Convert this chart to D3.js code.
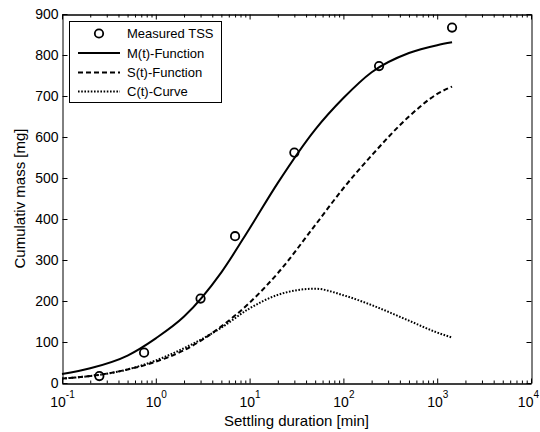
<!DOCTYPE html>
<html>
<head>
<meta charset="utf-8">
<script src="https://cdn.jsdelivr.net/npm/d3@7"></script>
<style>
  html, body { margin: 0; padding: 0; background: #fff; }
  svg { display: block; }
  text { font-family: "Liberation Sans", Arial, Helvetica, sans-serif; fill: #000; }
</style>
</head>
<body>
<svg id="chart" width="540" height="432"></svg>
<script>
// Measured total suspended solids (time in minutes, mass in mg)
const measuredTimes = [0.25, 0.75, 3, 7, 30, 240, 1440];
const measuredTSS = [17, 74, 206, 358, 562, 773, 867];

// Model curves sampled along the settling duration
const curveTimes = [0.1, 0.2, 0.5, 1, 2, 5, 10, 20, 50, 100, 200, 500, 1000, 1440];
const mFunction = [22, 36, 67, 109, 162, 270, 377, 488, 618, 695, 758, 805, 824, 831];
const sFunction = [11, 17, 33, 52, 80, 138, 196, 268, 385, 475, 555, 650, 705, 723];
const cCurve = [11, 17, 33, 55, 85, 135, 182, 215, 230, 214, 190, 152, 123, 111];

// Axis ticks
const xMajorTicks = [0.1, 1, 10, 100, 1000, 10000];
const xTickExponents = ["-1", "0", "1", "2", "3", "4"];
const yTicks = [0, 100, 200, 300, 400, 500, 600, 700, 800, 900];

const legendLabels = ["Measured TSS", "M(t)-Function", "S(t)-Function", "C(t)-Curve"];

const svg = d3.select("#chart");
const plotLeft = 62, plotRight = 531, plotTop = 14, plotBottom = 383;

const x = d3.scaleLog().domain([0.1, 10000]).range([plotLeft, plotRight]);
const y = d3.scaleLinear().domain([0, 900]).range([plotBottom, plotTop]);

// minor ticks 2..9 in every decade
const xMinorTicks = [];
for (let e = -1; e < 4; e++) {
  for (let k = 2; k <= 9; k++) xMinorTicks.push(k * Math.pow(10, e));
}

function styleAxis(g) {
  g.selectAll("path.domain").attr("stroke", "#000").attr("stroke-width", 1);
  g.selectAll(".tick line").attr("stroke", "#000").attr("stroke-width", 1);
}

// bottom axis: major and minor ticks pointing inward
svg.append("g").attr("transform", `translate(0,${plotBottom + 0.5})`)
  .call(d3.axisBottom(x).tickValues(xMajorTicks).tickSize(-5).tickSizeOuter(0).tickFormat(""))
  .call(styleAxis);
svg.append("g").attr("transform", `translate(0,${plotBottom + 0.5})`)
  .call(d3.axisBottom(x).tickValues(xMinorTicks).tickSize(-3).tickSizeOuter(0).tickFormat(""))
  .call(styleAxis);
// top axis
svg.append("g").attr("transform", `translate(0,${plotTop + 0.5})`)
  .call(d3.axisTop(x).tickValues(xMajorTicks).tickSize(-5).tickSizeOuter(0).tickFormat(""))
  .call(styleAxis);
svg.append("g").attr("transform", `translate(0,${plotTop + 0.5})`)
  .call(d3.axisTop(x).tickValues(xMinorTicks).tickSize(-3).tickSizeOuter(0).tickFormat(""))
  .call(styleAxis);

// left axis with labels
const yAxisG = svg.append("g").attr("transform", `translate(${plotLeft + 0.5},0)`)
  .call(d3.axisLeft(y).tickValues(yTicks).tickSize(-5).tickSizeOuter(0).tickPadding(4))
  .call(styleAxis);
yAxisG.selectAll(".tick text")
  .attr("font-size", 14)
  .attr("font-family", "Liberation Sans, Arial, sans-serif");
// right axis
svg.append("g").attr("transform", `translate(${plotRight + 0.5},0)`)
  .call(d3.axisRight(y).tickValues(yTicks).tickSize(-5).tickSizeOuter(0).tickFormat(""))
  .call(styleAxis);

// x tick labels as powers of ten (the last one kept inside the canvas)
const xLabels = svg.append("g");
xMajorTicks.forEach((v, i) => {
  const last = i === xMajorTicks.length - 1;
  const t = xLabels.append("text")
    .attr("x", last ? 539 : x(v) + 0.5)
    .attr("y", 407)
    .attr("text-anchor", last ? "end" : "middle")
    .attr("font-size", 14);
  t.append("tspan").text("10");
  t.append("tspan").attr("font-size", 10).attr("dy", -9).text(xTickExponents[i]);
});

// axis titles
svg.append("text")
  .attr("x", (plotLeft + plotRight) / 2)
  .attr("y", 426)
  .attr("text-anchor", "middle")
  .attr("font-size", 15)
  .text("Settling duration [min]");

svg.append("text")
  .attr("transform", `translate(25,${(plotTop + plotBottom) / 2}) rotate(-90)`)
  .attr("text-anchor", "middle")
  .attr("font-size", 15)
  .text("Cumulativ mass [mg]");

// model curves
const line = (vals) => d3.line()
  .x((d, i) => x(curveTimes[i]))
  .y(d => y(d))
  .curve(d3.curveMonotoneX)(vals);

const plot = svg.append("g");
plot.append("path").attr("d", line(mFunction))
  .attr("fill", "none").attr("stroke", "#000").attr("stroke-width", 2);
plot.append("path").attr("d", line(sFunction))
  .attr("fill", "none").attr("stroke", "#000").attr("stroke-width", 2)
  .attr("stroke-dasharray", "5,3");
plot.append("path").attr("d", line(cCurve))
  .attr("fill", "none").attr("stroke", "#000").attr("stroke-width", 2)
  .attr("stroke-dasharray", "1.6,1.6");

// measured points
plot.selectAll("circle.tss")
  .data(measuredTSS)
  .join("circle")
  .attr("class", "tss")
  .attr("cx", (d, i) => x(measuredTimes[i]))
  .attr("cy", d => y(d))
  .attr("r", 4.2)
  .attr("fill", "none")
  .attr("stroke", "#000")
  .attr("stroke-width", 1.8);

// legend
const lg = svg.append("g");
lg.append("rect")
  .attr("x", 69.5).attr("y", 21.5).attr("width", 152).attr("height", 81)
  .attr("fill", "#fff").attr("stroke", "#000").attr("stroke-width", 1);
const rowY = [33.5, 53, 72.5, 91.5];
const sampleX0 = 78, sampleX1 = 120, textX = 127;
lg.append("circle").attr("cx", (sampleX0 + sampleX1) / 2).attr("cy", rowY[0]).attr("r", 4.2)
  .attr("fill", "none").attr("stroke", "#000").attr("stroke-width", 1.8);
const dashes = [null, null, "5,3", "1.6,1.6"];
[1, 2, 3].forEach(i => {
  const l = lg.append("line")
    .attr("x1", sampleX0).attr("x2", sampleX1)
    .attr("y1", rowY[i]).attr("y2", rowY[i])
    .attr("stroke", "#000").attr("stroke-width", 2);
  if (dashes[i]) l.attr("stroke-dasharray", dashes[i]);
});
legendLabels.forEach((s, i) => {
  lg.append("text")
    .attr("x", textX).attr("y", rowY[i])
    .attr("dy", "0.35em")
    .attr("font-size", 13)
    .text(s);
});
</script>
</body>
</html>
